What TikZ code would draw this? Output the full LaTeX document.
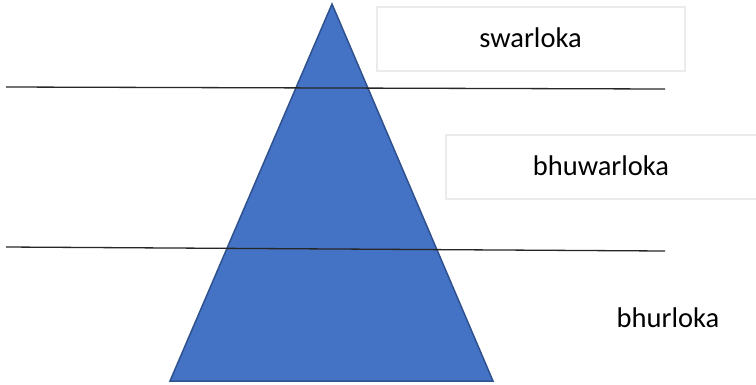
\documentclass[tikz,border=0pt]{standalone}
\usepackage{fontspec}
\setmainfont{Carlito}
\definecolor{pyrfill}{HTML}{4472C4}
\definecolor{pyredge}{HTML}{2F528F}
\definecolor{boxedge}{HTML}{EBEBEB}
\tikzset{
  lokabox/.style={draw=boxedge, line width=2pt, fill=white, inner sep=0pt},
  lokatext/.style={font=\fontsize{28.5}{34}\selectfont, text=black, inner sep=0pt, anchor=base},
  divider/.style={draw=black!85, line width=1.3pt},
  pyramid/.style={fill=pyrfill, draw=pyredge, line width=1.5pt, line join=miter}
}
\begin{document}
\begin{tikzpicture}[x=1pt, y=-1pt]
  \useasboundingbox (0,0) rectangle (756,384);
  \clip (0,0) rectangle (756,384);

  % pyramid
  \coordinate (apex) at (332,4);
  \coordinate (bl) at (170,381);
  \coordinate (br) at (493,381);
  \path[pyramid] (apex) -- (br) -- (bl) -- cycle;

  % level dividers
  \coordinate (d1a) at (6,87);
  \coordinate (d1b) at (665,89);
  \coordinate (d2a) at (6,247);
  \coordinate (d2b) at (665,251);
  \draw[divider] (d1a) -- (d1b);
  \draw[divider] (d2a) -- (d2b);

  % level labels
  \node[lokabox, minimum width=308pt, minimum height=64pt] (swbox) at (531,39) {};
  \node[lokatext] (sw) at (530.5,47) {swarloka};

  \node[lokabox, minimum width=312pt, minimum height=64pt] (bwbox) at (602,167) {};
  \node[lokatext] (bw) at (601,175) {bhuwarloka};

  \node[lokatext] (bh) at (668,327) {bhurloka};
\end{tikzpicture}
\end{document}
